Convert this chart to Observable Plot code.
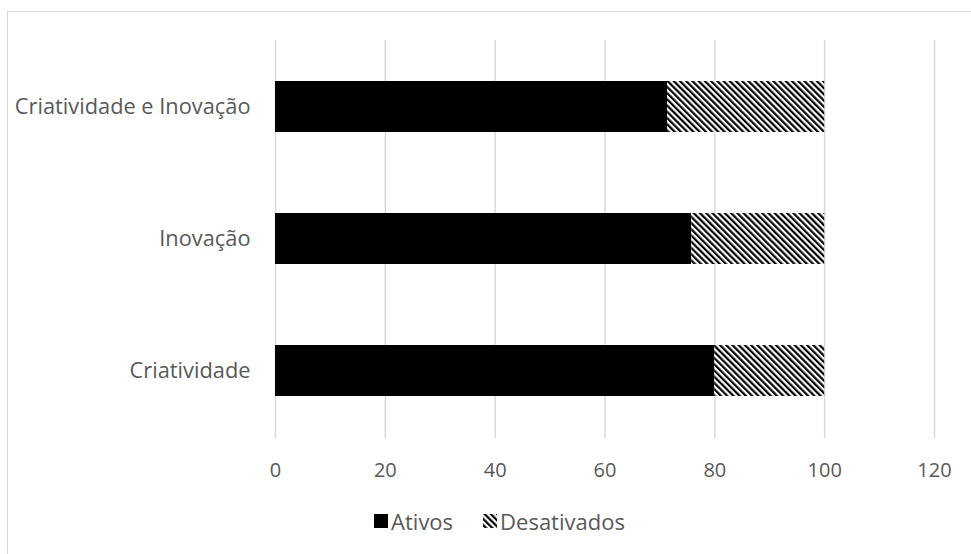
<!DOCTYPE html>
<html>
<head>
<meta charset="utf-8">
<script src="https://cdn.jsdelivr.net/npm/d3@7"></script>
<script src="https://cdn.jsdelivr.net/npm/@observablehq/plot@0.6"></script>
<style>
  html, body { margin: 0; padding: 0; background: #fff; overflow: hidden; width: 971px; height: 554px; }
  #frame { position: absolute; left: 7px; top: 11px; width: 1000px; height: 600px; border-left: 1.5px solid #d9d9d9; border-top: 1.5px solid #d9d9d9; box-sizing: border-box; }
  #chart { position: absolute; left: 0; top: 0; }
  #legend { position: absolute; left: 14px; width: 971px; top: 506px; height: 30px; display: flex; justify-content: center; align-items: center; font-family: "Open Sans", sans-serif; font-size: 22px; color: #595959; }
  .item { display: flex; align-items: center; margin: 0 15px; }
  .item svg { margin-right: 3px; }
</style>
</head>
<body>
<div id="frame"></div>
<div id="chart"></div>
<div id="legend"></div>
<script>
const categories = ["Criatividade e Inovação", "Inovação", "Criatividade"];
const ativos = [71.4, 75.8, 80.0];
const desativados = [28.6, 24.2, 20.0];
const seriesNames = ["Ativos", "Desativados"];
const xTicks = [0, 20, 40, 60, 80, 100, 120];

const rows = [];
categories.forEach((c, i) => {
  rows.push({categoria: c, status: seriesNames[0], valor: ativos[i]});
  rows.push({categoria: c, status: seriesNames[1], valor: desativados[i]});
});

const font = '"Open Sans", sans-serif';

const chart = Plot.plot({
  width: 971,
  height: 495,
  marginLeft: 275,
  marginRight: 37,
  marginTop: 40,
  marginBottom: 57,
  style: {fontFamily: font, fontSize: "20px", color: "#595959", background: "transparent"},
  x: {domain: [0, 120], ticks: xTicks, label: null},
  y: {domain: categories, paddingInner: 0.61, paddingOuter: 0.305, label: null},
  color: {domain: seriesNames, range: ["#000000", "url(#hatch)"]},
  marks: [
    Plot.gridX(xTicks, {stroke: "#d9d9d9", strokeOpacity: 1, strokeWidth: 1.5}),
    Plot.barX(rows, Plot.stackX({y: "categoria", x: "valor", fill: "status", order: seriesNames})),
    Plot.axisX(xTicks, {tickSize: 0, tickPadding: 24, fontSize: 20, fill: "#595959", label: null}),
    Plot.axisY({tickSize: 0, tickPadding: 25, fontSize: 21.8, fill: "#595959", label: null})
  ]
});

const ns = "http://www.w3.org/2000/svg";
function makePattern(id) {
  const defs = document.createElementNS(ns, "defs");
  const pat = document.createElementNS(ns, "pattern");
  pat.setAttribute("id", id);
  pat.setAttribute("patternUnits", "userSpaceOnUse");
  pat.setAttribute("width", "4.4");
  pat.setAttribute("height", "4.4");
  pat.setAttribute("patternTransform", "rotate(-45)");
  const bg = document.createElementNS(ns, "rect");
  bg.setAttribute("width", "4.4"); bg.setAttribute("height", "4.4"); bg.setAttribute("fill", "#fff");
  const r = document.createElementNS(ns, "rect");
  r.setAttribute("width", "2.2"); r.setAttribute("height", "4.4"); r.setAttribute("fill", "#000");
  pat.appendChild(bg); pat.appendChild(r); defs.appendChild(pat);
  return defs;
}
chart.insertBefore(makePattern("hatch"), chart.firstChild);
document.getElementById("chart").appendChild(chart);

const legend = document.getElementById("legend");
seriesNames.forEach((name, i) => {
  const item = document.createElement("div");
  item.className = "item";
  const sw = document.createElementNS(ns, "svg");
  sw.setAttribute("width", "14"); sw.setAttribute("height", "14");
  if (i === 1) sw.appendChild(makePattern("hatchLegend"));
  const rect = document.createElementNS(ns, "rect");
  rect.setAttribute("width", "14"); rect.setAttribute("height", "14");
  rect.setAttribute("fill", i === 0 ? "#000" : "url(#hatchLegend)");
  sw.appendChild(rect);
  const label = document.createElement("span");
  label.textContent = name;
  item.appendChild(sw); item.appendChild(label);
  legend.appendChild(item);
});
</script>
</body>
</html>
